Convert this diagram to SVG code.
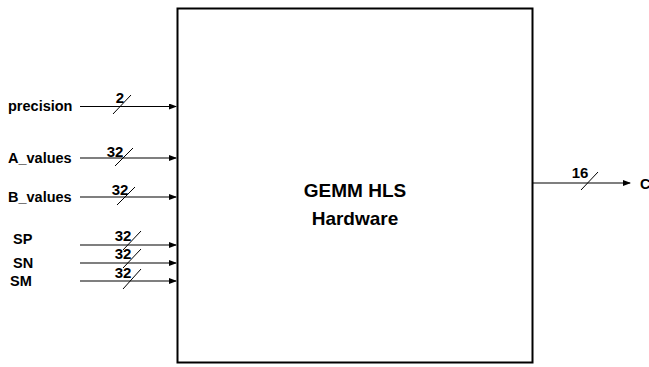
<svg xmlns="http://www.w3.org/2000/svg" width="649" height="367" viewBox="0 0 649 367">
<style>
.lbl{font-family:"Liberation Sans",Arial,sans-serif;font-weight:bold;font-size:14.5px;fill:#000}
.bw{font-family:"Liberation Sans",Arial,sans-serif;font-weight:bold;font-size:15px;fill:#000;text-anchor:middle}
.ttl{font-family:"Liberation Sans",Arial,sans-serif;font-weight:bold;font-size:19px;fill:#000;text-anchor:middle}
.w{stroke:#000;stroke-width:1.2;fill:none}
.sl{stroke:#000;stroke-width:1;fill:none}
</style>
<defs>
<marker id="ah" markerWidth="8" markerHeight="6" refX="7" refY="3" orient="auto" markerUnits="userSpaceOnUse">
<path d="M0,0 L8,3 L0,6 Z" fill="#000"/>
</marker>
</defs>
<g id="hw">
<rect x="177.5" y="8.5" width="355" height="354" fill="#fff" stroke="#000" stroke-width="2"/>
<text class="ttl" x="355" y="197">GEMM HLS</text>
<text class="ttl" x="355" y="225">Hardware</text>
</g>
<g id="labels">
<text class="lbl" x="8" y="111">precision</text>
<text class="lbl" x="8" y="163">A_values</text>
<text class="lbl" x="8" y="202">B_values</text>
<text class="lbl" x="13" y="244">SP</text>
<text class="lbl" x="13" y="268">SN</text>
<text class="lbl" x="10" y="286">SM</text>
<text class="lbl" x="640" y="189">C</text>
</g>
<g id="connectors">
<line class="w" x1="80" y1="106.5" x2="176" y2="106.5" marker-end="url(#ah)"/>
<line class="sl" x1="113" y1="114" x2="131" y2="95"/>
<text class="bw" x="120" y="103">2</text>
<line class="w" x1="80" y1="158" x2="176" y2="158" marker-end="url(#ah)"/>
<line class="sl" x1="115" y1="166" x2="133" y2="148"/>
<text class="bw" x="115" y="157">32</text>
<line class="w" x1="80" y1="197" x2="176" y2="197" marker-end="url(#ah)"/>
<line class="sl" x1="117" y1="205" x2="135" y2="187"/>
<text class="bw" x="120" y="195">32</text>
<line class="w" x1="80" y1="245" x2="176" y2="245" marker-end="url(#ah)"/>
<line class="sl" x1="123" y1="250" x2="141" y2="231"/>
<text class="bw" x="123" y="241">32</text>
<line class="w" x1="80" y1="263" x2="176" y2="263" marker-end="url(#ah)"/>
<line class="sl" x1="123" y1="268" x2="141" y2="249"/>
<text class="bw" x="123" y="259">32</text>
<line class="w" x1="80" y1="281" x2="176" y2="281" marker-end="url(#ah)"/>
<line class="sl" x1="123" y1="289" x2="141" y2="269"/>
<text class="bw" x="123" y="278">32</text>
<line class="w" x1="533" y1="183" x2="630" y2="183" marker-end="url(#ah)"/>
<line class="sl" x1="581" y1="190" x2="598" y2="172"/>
<text class="bw" x="580" y="178">16</text>
</g>
</svg>
